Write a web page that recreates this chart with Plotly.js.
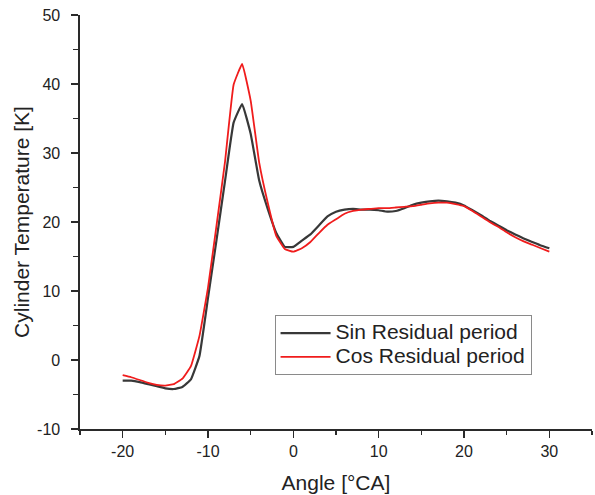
<!DOCTYPE html>
<html>
<head>
<meta charset="utf-8">
<script src="https://cdn.plot.ly/plotly-3.0.1.min.js"></script>
<style>html,body{margin:0;padding:0;background:#fff;}#chart{width:595px;height:495px;}</style>
</head>
<body>
<div id="chart"></div>
<script>
const angle = [-20,-19,-18,-17,-16,-15,-14,-13,-12,-11,-10,-9,-8,-7,-6,-5,-4,-3,-2,-1,0,1,2,3,4,5,6,7,8,9,10,11,12,13,14,15,16,17,18,19,20,21,22,23,24,25,26,27,28,29,30];
const sinResidual = [-3.0,-3.0,-3.2,-3.5,-3.8,-4.1,-4.2,-3.9,-2.8,0.6,9.0,17.4,26.0,34.4,37.1,32.8,26.0,21.9,18.4,16.4,16.4,17.3,18.2,19.5,20.8,21.5,21.8,21.9,21.8,21.8,21.7,21.5,21.6,22.0,22.5,22.8,23.0,23.1,23.0,22.8,22.4,21.7,21.0,20.2,19.5,18.8,18.2,17.6,17.1,16.6,16.2];
const cosResidual = [-2.2,-2.5,-2.9,-3.3,-3.6,-3.7,-3.5,-2.7,-0.9,3.5,10.5,19.5,28.8,39.9,42.9,37.6,28.6,22.8,18.0,16.1,15.7,16.2,17.1,18.4,19.6,20.4,21.2,21.6,21.8,21.9,22.0,22.0,22.1,22.2,22.3,22.5,22.7,22.8,22.8,22.6,22.3,21.6,20.8,20.0,19.3,18.5,17.8,17.2,16.7,16.2,15.7];
const seriesNames = ["Sin Residual period", "Cos Residual period"];
const xTickVals = [-20, -10, 0, 10, 20, 30];
const xTickText = ["-20", "-10", "0", "10", "20", "30"];
const yTickVals = [-10, 0, 10, 20, 30, 40, 50];
const yTickText = ["-10", "0", "10", "20", "30", "40", "50"];

const traces = [
  {x: angle, y: sinResidual, name: '<span style="font-size:21px">' + seriesNames[0] + '</span>', type: 'scatter', mode: 'lines',
   line: {color: '#383838', width: 2.2, shape: 'spline', smoothing: 0.3}},
  {x: angle, y: cosResidual, name: '<span style="font-size:21px">' + seriesNames[1] + '</span>', type: 'scatter', mode: 'lines',
   line: {color: '#f01c1c', width: 1.8, shape: 'spline', smoothing: 0.3}}
];

const fontFam = 'Liberation Sans, Arial, sans-serif';
const axisCommon = {
  showgrid: false, zeroline: false, showline: true, linecolor: '#2a2a2a', linewidth: 1.6,
  ticks: 'outside', tickcolor: '#2a2a2a', tickwidth: 1.6, ticklen: 7,
  tickmode: 'array',
  tickfont: {family: fontFam, size: 16, color: '#222'},
  mirror: false
};

const layout = {
  width: 595, height: 495,
  margin: {l: 80, r: 3, t: 15, b: 66},
  paper_bgcolor: '#fff', plot_bgcolor: '#fff',
  showlegend: true,
  xaxis: Object.assign({}, axisCommon, {
    range: [-25, 35], tickvals: xTickVals, ticktext: xTickText,
    minor: {tickmode: 'linear', tick0: 0, dtick: 5, ticks: 'outside', ticklen: 4, tickwidth: 1.4, tickcolor: '#2a2a2a'},
    title: {text: 'Angle [°CA]', font: {family: fontFam, size: 21, color: '#222'}, standoff: 16}
  }),
  yaxis: Object.assign({}, axisCommon, {
    range: [-10, 50], tickvals: yTickVals, ticktext: yTickText,
    ticklabelstandoff: 8, automargin: true,
    minor: {tickmode: 'linear', tick0: 0, dtick: 5, ticks: 'outside', ticklen: 5, tickwidth: 1.4, tickcolor: '#2a2a2a'},
    title: {text: 'Cylinder Temperature [K]', font: {family: fontFam, size: 21, color: '#222'}, standoff: 2}
  }),
  legend: {
    x: 0.38, y: 0.275, xanchor: 'left', yanchor: 'top',
    bgcolor: '#fff', bordercolor: '#8a8a8a', borderwidth: 1,
    font: {family: fontFam, size: 16, color: '#222'},
    itemwidth: 50, tracegroupgap: 0
  }
};

Plotly.newPlot('chart', traces, layout, {displayModeBar: false, staticPlot: true});
</script>
</body>
</html>
